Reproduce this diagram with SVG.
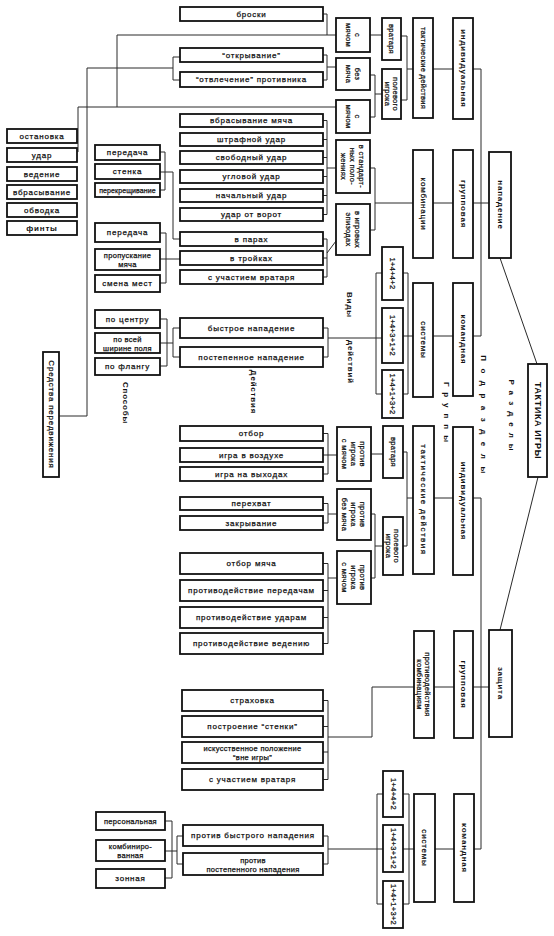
<svg xmlns="http://www.w3.org/2000/svg" width="554" height="936" viewBox="0 0 554 936">
<style>
.b{fill:#fff;stroke:#111;stroke-width:1.8}
.t{font-family:"Liberation Sans","DejaVu Sans",sans-serif;font-size:8px;fill:#111;stroke:#111;stroke-width:0.25px;text-anchor:middle;dominant-baseline:central;letter-spacing:0.8px}
.s{font-size:7.5px;letter-spacing:0.3px}
.k{font-weight:bold;stroke-width:0}
.c path{fill:none;stroke:#2a2a2a;stroke-width:1}
</style>
<rect width="554" height="936" fill="#fff"/>
<g id="connectors" class="c">
<path d="M323 14H327V35M117 35H336M117 35V107M78 107H336M78 107V152"/>
<path d="M323 55H327M323 80H327M327 55V80M327 67H336M180 57H173V80H180M87 68H173M87 68V416H59"/>
<path d="M370 35H382M370 75H375M370 117H375M375 75V117M375 94H382"/>
<path d="M401 36H407M401 100H407M407 36V100M407 69H413M433 69H453M473 69H481V336"/>
<path d="M323 120.5H327M323 139.5H327M323 157.5H327M323 176.5H327M323 195.5H327M323 214.5H327M327 120.5V214.5M327 168H336"/>
<path d="M323 239H327M323 258H327M323 277H327M327 239V277M327 253L336 241"/>
<path d="M370 168H375M370 230H375M375 168V230M375 203H413M433 203H453M473 203H489"/>
<path d="M160 152H165M160 190H165M165 152V190M160 172H173V239H180"/>
<path d="M160 233H166M160 283H166M166 233V283M160 259H180"/>
<path d="M160 319H167M160 366H167M167 319V366M160 343H173M173 328V357M173 328H180M173 357H180"/>
<path d="M323 328H328M323 357H328M328 328V357M328 338H382"/>
<path d="M376 273H382M376 394H382M376 273V394M403 273H408M403 394H408M408 273V394M403 336H413M433 336H453M473 336H481"/>
<path d="M500 258L537 364M538 477L500 630"/>
<path d="M323 433.5H328M323 455H328M323 474H328M328 433.5V474M328 455H337M371 454H383"/>
<path d="M323 503.5H328M323 523H328M328 503.5V523M328 514H337"/>
<path d="M323 563.5H328M323 590.5H328M323 617.5H328M323 643.5H328M328 563.5V643.5M328 578H337"/>
<path d="M371 514H375M371 578H375M375 514V578M375 546H383"/>
<path d="M403 452H407M403 546H407M407 452V546M407 498H413M434 498H453M473 498H481V849"/>
<path d="M323 700.5H328M323 726.5H328M323 752H328M323 779.5H328M328 700.5V779.5M328 737H372V687H414M434 687H454M473 687H489"/>
<path d="M165 821H172M165 878H172M172 821V878M165 851H177M177 836V864M177 836H183M177 864H183"/>
<path d="M323 836H328M323 864H328M328 836V864M328 849H383"/>
<path d="M377 794H383M377 904H383M377 794V904M403 794H409M403 904H409M409 794V904M403 849H414M435 849H454M474 849H481"/>
</g>

<g id="n-takt"><rect class="b" x="528" y="364" width="19" height="113"/><text class="t k" style="font-size:9px;letter-spacing:0.6px" transform="rotate(90 537.5 420.5)" x="537.5" y="420.5">ТАКТИКА ИГРЫ</text></g>
<g id="n-napad"><rect class="b" x="489" y="152" width="22" height="106"/><text class="t k" transform="rotate(90 500 205)" x="500" y="205">нападение</text></g>
<g id="n-zash"><rect class="b" x="489" y="630" width="23" height="107"/><text class="t k" transform="rotate(90 500.5 683.5)" x="500.5" y="683.5">защита</text></g>

<g id="n-a-ind"><rect class="b" x="453" y="18" width="20" height="101"/><text class="t k" transform="rotate(90 463 68.5)" x="463" y="68.5">индивидуальная</text></g>
<g id="n-a-grp"><rect class="b" x="453" y="150" width="20" height="108"/><text class="t k" transform="rotate(90 463 204)" x="463" y="204">групповая</text></g>
<g id="n-a-kom"><rect class="b" x="453" y="283" width="20" height="113"/><text class="t k" transform="rotate(90 463 339.5)" x="463" y="339.5">командная</text></g>
<g id="n-d-ind"><rect class="b" x="453" y="427" width="20" height="148"/><text class="t k" transform="rotate(90 463 501)" x="463" y="501">индивидуальная</text></g>
<g id="n-d-grp"><rect class="b" x="454" y="631" width="19" height="107"/><text class="t k" transform="rotate(90 463.5 684.5)" x="463.5" y="684.5">групповая</text></g>
<g id="n-d-kom"><rect class="b" x="454" y="794" width="20" height="108"/><text class="t k" transform="rotate(90 464 848)" x="464" y="848">командная</text></g>

<g id="n-a-td"><rect class="b" x="413" y="18" width="20" height="100"/><text class="t s" transform="rotate(90 423 68)" x="423" y="68">тактические действия</text></g>
<g id="n-a-komb"><rect class="b" x="413" y="150" width="20" height="108"/><text class="t" transform="rotate(90 423 204)" x="423" y="204">комбинации</text></g>
<g id="n-a-sys"><rect class="b" x="413" y="283" width="20" height="114"/><text class="t" transform="rotate(90 423 340)" x="423" y="340">системы</text></g>
<g id="n-d-td"><rect class="b" x="413" y="426" width="21" height="148"/><text class="t" style="letter-spacing:1.5px" transform="rotate(90 423.5 500)" x="423.5" y="500">тактические действия</text></g>
<g id="n-d-pk"><rect class="b" x="414" y="631" width="20" height="107"/><text class="t s" transform="rotate(90 424 684.5)" x="424" y="684.5"><tspan x="424" y="680.5">противодействия</tspan><tspan x="424" y="688.5">комбинациям</tspan></text></g>
<g id="n-d-sys"><rect class="b" x="414" y="794" width="21" height="108"/><text class="t" transform="rotate(90 424.5 848)" x="424.5" y="848">системы</text></g>

<g id="n-a-vr"><rect class="b" x="382" y="18" width="19" height="42"/><text class="t s" transform="rotate(90 391.5 39)" x="391.5" y="39">вратаря</text></g>
<g id="n-a-pi"><rect class="b" x="382" y="69" width="19" height="50"/><text class="t s" transform="rotate(90 391.5 94)" x="391.5" y="94"><tspan x="391.5" y="90">полевого</tspan><tspan x="391.5" y="98">игрока</tspan></text></g>
<g id="n-d-vr"><rect class="b" x="383" y="426" width="20" height="52"/><text class="t s" transform="rotate(90 393 452)" x="393" y="452">вратаря</text></g>
<g id="n-d-pi"><rect class="b" x="383" y="517" width="20" height="58"/><text class="t s" transform="rotate(90 393 546)" x="393" y="546"><tspan x="393" y="542">полевого</tspan><tspan x="393" y="550">игрока</tspan></text></g>

<g id="n-a-s1"><rect class="b" x="382" y="247" width="21" height="53"/><text class="t s" transform="rotate(90 392.5 273.5)" x="392.5" y="273.5">1+4+4+2</text></g>
<g id="n-a-s2"><rect class="b" x="382" y="308" width="21" height="55"/><text class="t s" transform="rotate(90 392.5 335.5)" x="392.5" y="335.5">1+4+3+1+2</text></g>
<g id="n-a-s3"><rect class="b" x="382" y="370" width="21" height="48"/><text class="t s" transform="rotate(90 392.5 394)" x="392.5" y="394">1+4+1+3+2</text></g>
<g id="n-d-s1"><rect class="b" x="383" y="771" width="20" height="46"/><text class="t s" transform="rotate(90 393 794)" x="393" y="794">1+4+4+2</text></g>
<g id="n-d-s2"><rect class="b" x="383" y="825" width="20" height="47"/><text class="t s" transform="rotate(90 393 848.5)" x="393" y="848.5">1+4+3+1+2</text></g>
<g id="n-d-s3"><rect class="b" x="383" y="881" width="20" height="47"/><text class="t s" transform="rotate(90 393 904.5)" x="393" y="904.5">1+4+1+3+2</text></g>

<g id="n-gk-ball"><rect class="b" x="336" y="18" width="34" height="34"/><text class="t s" transform="rotate(90 353 35)" x="353" y="35"><tspan x="353" y="30.5">с</tspan><tspan x="353" y="39.5">мячом</tspan></text></g>
<g id="n-no-ball"><rect class="b" x="336" y="58" width="34" height="32"/><text class="t s" transform="rotate(90 353 74)" x="353" y="74"><tspan x="353" y="69.5">без</tspan><tspan x="353" y="78.5">мяча</tspan></text></g>
<g id="n-ball"><rect class="b" x="336" y="100" width="34" height="33"/><text class="t s" transform="rotate(90 353 116.5)" x="353" y="116.5"><tspan x="353" y="112">с</tspan><tspan x="353" y="121">мячом</tspan></text></g>
<g id="n-std"><rect class="b" x="336" y="140" width="34" height="53"/><text class="t s" transform="rotate(90 353 166.5)" x="353" y="166.5"><tspan x="353" y="157.5">в стандарт-</tspan><tspan x="353" y="166.5">ных поло-</tspan><tspan x="353" y="175.5">жениях</tspan></text></g>
<g id="n-epi"><rect class="b" x="336" y="204" width="34" height="51"/><text class="t s" transform="rotate(90 353 229.5)" x="353" y="229.5"><tspan x="353" y="225">в игровых</tspan><tspan x="353" y="234">эпизодах</tspan></text></g>
<g id="n-d-gk"><rect class="b" x="337" y="427" width="34" height="54"/><text class="t s" transform="rotate(90 354 454)" x="354" y="454"><tspan x="354" y="445">против</tspan><tspan x="354" y="454">игрока</tspan><tspan x="354" y="463">с мячом</tspan></text></g>
<g id="n-d-nb"><rect class="b" x="337" y="489" width="34" height="51"/><text class="t s" transform="rotate(90 354 514.5)" x="354" y="514.5"><tspan x="354" y="505.5">против</tspan><tspan x="354" y="514.5">игрока</tspan><tspan x="354" y="523.5">без мяча</tspan></text></g>
<g id="n-d-wb"><rect class="b" x="337" y="551" width="34" height="53"/><text class="t s" transform="rotate(90 354 577.5)" x="354" y="577.5"><tspan x="354" y="568.5">против</tspan><tspan x="354" y="577.5">игрока</tspan><tspan x="354" y="586.5">с мячом</tspan></text></g>

<g id="n-broski"><rect class="b" x="180" y="7" width="143" height="14"/><text class="t" x="251.5" y="14">броски</text></g>
<g id="n-otkr"><rect class="b" x="180" y="48" width="143" height="14"/><text class="t" x="251.5" y="55">“открывание”</text></g>
<g id="n-otvl"><rect class="b" x="180" y="72" width="143" height="15"/><text class="t" x="251.5" y="79.5">“отвлечение” противника</text></g>
<g id="n-vbr"><rect class="b" x="180" y="114" width="143" height="13"/><text class="t" x="251.5" y="120.5">вбрасывание мяча</text></g>
<g id="n-shtr"><rect class="b" x="180" y="133" width="143" height="13"/><text class="t" x="251.5" y="139.5">штрафной удар</text></g>
<g id="n-svob"><rect class="b" x="180" y="151" width="143" height="13"/><text class="t" x="251.5" y="157.5">свободный удар</text></g>
<g id="n-ugl"><rect class="b" x="180" y="170" width="143" height="13"/><text class="t" x="251.5" y="176.5">угловой удар</text></g>
<g id="n-nach"><rect class="b" x="180" y="189" width="143" height="13"/><text class="t" x="251.5" y="195.5">начальный удар</text></g>
<g id="n-vorot"><rect class="b" x="180" y="208" width="143" height="13"/><text class="t" x="251.5" y="214.5">удар от ворот</text></g>
<g id="n-par"><rect class="b" x="180" y="232" width="143" height="14"/><text class="t" x="251.5" y="239">в парах</text></g>
<g id="n-troi"><rect class="b" x="180" y="251" width="143" height="14"/><text class="t" x="251.5" y="258">в тройках</text></g>
<g id="n-a-uv"><rect class="b" x="180" y="270" width="143" height="14"/><text class="t" x="251.5" y="277">с участием вратаря</text></g>
<g id="n-bystr"><rect class="b" x="180" y="318" width="143" height="20"/><text class="t" x="251.5" y="328">быстрое нападение</text></g>
<g id="n-post"><rect class="b" x="180" y="347" width="143" height="20"/><text class="t" x="251.5" y="357">постепенное нападение</text></g>
<g id="n-otbor"><rect class="b" x="180" y="426" width="143" height="15"/><text class="t" x="251.5" y="433.5">отбор</text></g>
<g id="n-vozd"><rect class="b" x="180" y="448" width="143" height="14"/><text class="t" x="251.5" y="455">игра в воздухе</text></g>
<g id="n-vyh"><rect class="b" x="180" y="467" width="143" height="14"/><text class="t" x="251.5" y="474">игра на выходах</text></g>
<g id="n-perehv"><rect class="b" x="180" y="497" width="143" height="13"/><text class="t" x="251.5" y="503.5">перехват</text></g>
<g id="n-zakr"><rect class="b" x="180" y="516" width="143" height="14"/><text class="t" x="251.5" y="523">закрывание</text></g>
<g id="n-otbm"><rect class="b" x="180" y="553" width="143" height="21"/><text class="t" x="251.5" y="563.5">отбор мяча</text></g>
<g id="n-pper"><rect class="b" x="180" y="580" width="143" height="21"/><text class="t" x="251.5" y="590.5">противодействие передачам</text></g>
<g id="n-pud"><rect class="b" x="180" y="607" width="143" height="21"/><text class="t" x="251.5" y="617.5">противодействие ударам</text></g>
<g id="n-pved"><rect class="b" x="180" y="633" width="143" height="21"/><text class="t" x="251.5" y="643.5">противодействие ведению</text></g>
<g id="n-strah"><rect class="b" x="182" y="690" width="141" height="21"/><text class="t" x="252.5" y="700.5">страховка</text></g>
<g id="n-stenki"><rect class="b" x="182" y="716" width="141" height="21"/><text class="t" x="252.5" y="726.5">построение “стенки”</text></g>
<g id="n-vne"><rect class="b" x="182" y="742" width="141" height="21"/><text class="t s" x="252.5" y="752"><tspan x="252.5" y="748">искусственное положение</tspan><tspan x="252.5" y="757">“вне игры”</tspan></text></g>
<g id="n-d-uv"><rect class="b" x="182" y="769" width="141" height="21"/><text class="t" x="252.5" y="779.5">с участием вратаря</text></g>
<g id="n-pbn"><rect class="b" x="183" y="825" width="140" height="21"/><text class="t" x="253" y="835.5">против быстрого нападения</text></g>
<g id="n-ppn"><rect class="b" x="183" y="853" width="140" height="22"/><text class="t s" x="253" y="864"><tspan x="253" y="859.5">против</tspan><tspan x="253" y="868.5">постепенного нападения</tspan></text></g>

<g id="n-ost"><rect class="b" x="7" y="129" width="70" height="14"/><text class="t" x="42" y="136">остановка</text></g>
<g id="n-udar"><rect class="b" x="7" y="148" width="70" height="14"/><text class="t" x="42" y="155">удар</text></g>
<g id="n-ved"><rect class="b" x="7" y="167" width="70" height="14"/><text class="t" x="42" y="174">ведение</text></g>
<g id="n-vbras"><rect class="b" x="7" y="185" width="70" height="14"/><text class="t" x="42" y="192">вбрасывание</text></g>
<g id="n-obv"><rect class="b" x="7" y="203" width="70" height="14"/><text class="t" x="42" y="210">обводка</text></g>
<g id="n-fint"><rect class="b" x="7" y="221" width="70" height="14"/><text class="t k" x="42" y="228">финты</text></g>
<g id="n-sredstva"><rect class="b" x="43" y="352" width="16" height="125"/><text class="t" transform="rotate(90 51 414.5)" x="51" y="414.5">Средства передвижения</text></g>

<g id="n-per1"><rect class="b" x="95" y="145" width="65" height="15"/><text class="t" x="127.5" y="152.5">передача</text></g>
<g id="n-sten"><rect class="b" x="95" y="164" width="65" height="15"/><text class="t" x="127.5" y="171.5">стенка</text></g>
<g id="n-perekr"><rect class="b" x="95" y="183" width="65" height="14"/><text class="t s" style="font-size:7px;letter-spacing:0.1px" x="127.5" y="190">перекрещивание</text></g>
<g id="n-per2"><rect class="b" x="95" y="223" width="65" height="19"/><text class="t" x="127.5" y="232.5">передача</text></g>
<g id="n-prop"><rect class="b" x="95" y="249" width="65" height="21"/><text class="t s" x="127.5" y="259.5"><tspan x="127.5" y="255">пропускание</tspan><tspan x="127.5" y="264">мяча</tspan></text></g>
<g id="n-smena"><rect class="b" x="95" y="275" width="65" height="17"/><text class="t" x="127.5" y="283.5">смена мест</text></g>
<g id="n-centr"><rect class="b" x="95" y="310" width="65" height="18"/><text class="t" x="127.5" y="319">по центру</text></g>
<g id="n-shir"><rect class="b" x="95" y="333" width="65" height="20"/><text class="t s" x="127.5" y="343"><tspan x="127.5" y="338.5">по всей</tspan><tspan x="127.5" y="347.5">ширине поля</tspan></text></g>
<g id="n-flang"><rect class="b" x="95" y="358" width="65" height="17"/><text class="t" x="127.5" y="366.5">по флангу</text></g>
<g id="n-pers"><rect class="b" x="96" y="812" width="69" height="18"/><text class="t s" x="130.5" y="821">персональная</text></g>
<g id="n-kombin"><rect class="b" x="96" y="840" width="69" height="21"/><text class="t s" x="130.5" y="850.5"><tspan x="130.5" y="846">комбиниро-</tspan><tspan x="130.5" y="855">ванная</tspan></text></g>
<g id="n-zon"><rect class="b" x="96" y="869" width="69" height="19"/><text class="t" x="130.5" y="878.5">зонная</text></g>

<g id="labels">
<text class="t k" transform="rotate(90 349 305)" x="349" y="305">Виды</text>
<text class="t k" transform="rotate(90 350 362)" x="350" y="362">действий</text>
<text class="t k" transform="rotate(90 253 392)" x="253" y="392">Действия</text>
<text class="t k" transform="rotate(90 125 403)" x="125" y="403">Способы</text>
<text class="t k" style="letter-spacing:6px" transform="rotate(90 446 415)" x="446" y="415">Группы</text>
<text class="t k" style="letter-spacing:7.5px" transform="rotate(90 483 418)" x="483" y="418">Подразделы</text>
<text class="t k" style="letter-spacing:6px" transform="rotate(90 511 418)" x="511" y="418">Разделы</text>
</g>
</svg>
